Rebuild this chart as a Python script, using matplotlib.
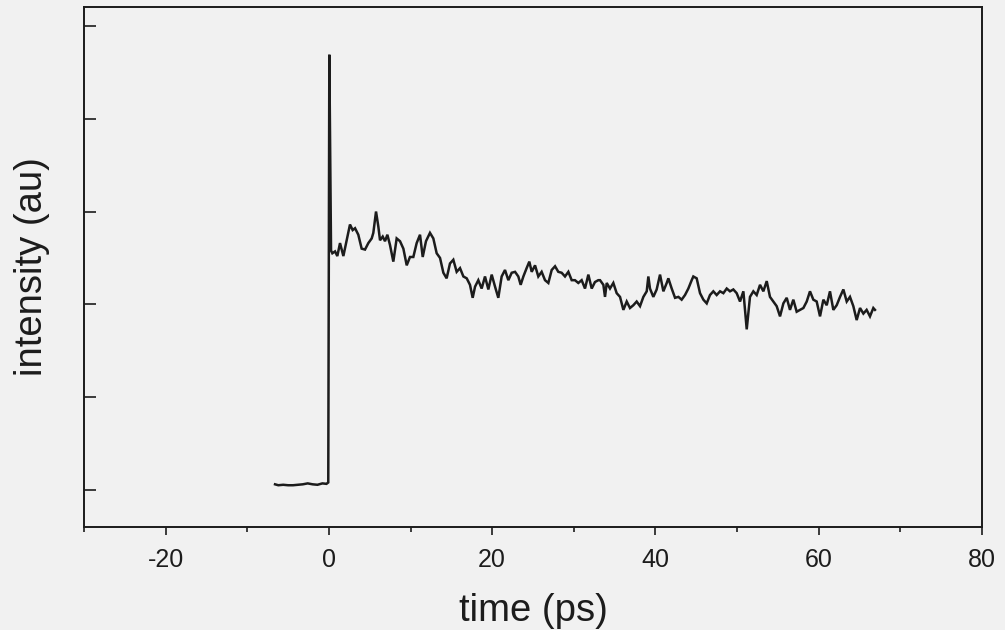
import matplotlib
matplotlib.use("Agg")
import matplotlib.pyplot as plt
from matplotlib.ticker import MultipleLocator, NullFormatter

# ---- data (time in ps, intensity in arbitrary units) ----
time_base = [-6.6, -6.2, -5.6, -5.0, -4.4, -3.8, -3.2, -2.6, -2.0, -1.4, -0.8, -0.3, -0.08]
int_base = [0.06, 0.05, 0.055, 0.05, 0.05, 0.055, 0.06, 0.07, 0.06, 0.055, 0.07, 0.065, 0.08]

time_peak = [0.05, 0.26]
int_peak = [4.69, 2.58]

time_early = [0.42, 0.75, 1.03, 1.36, 1.77, 2.18, 2.58, 2.91, 3.20, 3.60, 4.01, 4.42, 4.83,
              5.24, 5.44, 5.77, 6.05, 6.26, 6.59, 6.87, 7.16, 7.48, 7.89, 8.30, 8.71, 9.12,
              9.53, 9.93, 10.34, 10.75, 11.16, 11.49, 11.89, 12.38, 12.79, 13.20, 13.61,
              14.02, 14.42, 14.83, 15.24, 15.65, 16.06, 16.47, 16.88, 17.28, 17.61, 17.90,
              18.30, 18.71, 19.12, 19.53, 19.94, 20.35, 20.75, 21.16, 21.57, 21.98, 22.39,
              22.80, 23.20, 23.49, 23.82, 24.22, 24.55, 24.84, 25.25, 25.65, 26.06, 26.47,
              26.88, 27.29, 27.70, 28.10, 28.51, 28.92, 29.33, 29.74, 30.14, 30.55, 30.96,
              31.37, 31.78, 32.19, 32.59, 33.00]
int_early = [2.55, 2.57, 2.52, 2.66, 2.52, 2.69, 2.86, 2.80, 2.82, 2.75, 2.60, 2.59, 2.66,
             2.71, 2.77, 3.00, 2.84, 2.69, 2.73, 2.68, 2.75, 2.64, 2.46, 2.71, 2.68, 2.60,
             2.42, 2.51, 2.51, 2.66, 2.75, 2.51, 2.68, 2.77, 2.71, 2.55, 2.50,
             2.34, 2.28, 2.44, 2.48, 2.35, 2.39, 2.30, 2.28, 2.21, 2.07, 2.19,
             2.26, 2.17, 2.30, 2.16, 2.32, 2.19, 2.07, 2.30, 2.37, 2.26, 2.34,
             2.35, 2.30, 2.21, 2.30, 2.39, 2.46, 2.35, 2.42, 2.30, 2.35, 2.26,
             2.23, 2.37, 2.41, 2.35, 2.34, 2.30, 2.35, 2.26, 2.26, 2.23, 2.26,
             2.17, 2.32, 2.17, 2.24, 2.26]

time_late = [33.21, 33.62, 33.82, 34.03, 34.43, 34.84, 35.25, 35.66, 36.07, 36.48, 36.88,
             37.29, 37.70, 38.11, 38.52, 38.93, 39.13, 39.33, 39.74, 40.15, 40.56, 40.97,
             41.38, 41.58, 41.99, 42.40, 42.81, 43.21, 43.62, 44.03, 44.44, 44.64, 45.05,
             45.46, 45.87, 46.28, 46.68, 47.09, 47.50, 47.91, 48.32, 48.73, 49.13, 49.54,
             49.95, 50.36, 50.77, 51.18, 51.58, 51.99, 52.40, 52.81, 53.22, 53.63, 54.03,
             54.44, 54.85, 55.26, 55.67, 56.08, 56.48, 56.89, 57.30, 57.71, 58.12, 58.53,
             58.93, 59.34, 59.75, 60.16, 60.57, 60.98, 61.38, 61.79, 62.20, 62.61, 63.02,
             63.43, 63.83, 64.24, 64.65, 65.06, 65.47, 65.87, 66.28, 66.69, 66.89]
int_late = [2.26, 2.21, 2.08, 2.23, 2.17, 2.23, 2.12, 2.08, 1.94, 2.03, 1.96,
            1.99, 2.03, 1.98, 2.08, 2.14, 2.30, 2.17, 2.08, 2.16, 2.32, 2.14,
            2.23, 2.28, 2.17, 2.07, 2.08, 2.05, 2.10, 2.17, 2.26, 2.30, 2.28,
            2.12, 2.05, 2.01, 2.10, 2.14, 2.10, 2.14, 2.12, 2.17, 2.14, 2.16,
            2.12, 2.03, 2.14, 1.73, 2.08, 2.14, 2.10, 2.21, 2.14, 2.25, 2.08,
            2.03, 1.98, 1.87, 2.01, 2.07, 1.94, 2.05, 1.92, 1.94, 1.96, 2.03,
            2.14, 2.05, 2.03, 1.87, 2.05, 1.99, 2.14, 1.94, 1.99, 2.08, 2.16,
            2.03, 2.08, 1.98, 1.83, 1.96, 1.90, 1.94, 1.87, 1.96, 1.94]

x_ticks_major = [-20, 0, 20, 40, 60, 80]
x_tick_labels = ["-20", "0", "20", "40", "60", "80"]
y_ticks = [0, 1, 2, 3, 4, 5]

time_all = time_base + time_peak + time_early + time_late
int_all = int_base + int_peak + int_early + int_late

# ---- figure ----
BG = "#f1f1f1"
INK = "#1c1c1c"
plt.rcParams["font.family"] = ["Liberation Sans", "DejaVu Sans"]

fig = plt.figure(figsize=(10.05, 6.3), dpi=100, facecolor=BG)
ax = fig.add_axes([0.0836, 0.1635, 0.8935, 0.8255])
ax.set_facecolor(BG)

ax.plot(time_all, int_all, color=INK, lw=1.8, solid_joinstyle="miter")

ax.set_xlim(-30, 80)
ax.set_ylim(-0.40, 5.205)

ax.set_xticks(x_ticks_major)
ax.set_xticklabels(x_tick_labels)
ax.xaxis.set_minor_locator(MultipleLocator(10))
ax.set_yticks(y_ticks)
ax.yaxis.set_major_formatter(NullFormatter())

ax.tick_params(axis="x", which="major", direction="out", length=6, width=1.2,
               colors=INK, labelsize=18, pad=9)
ax.tick_params(axis="x", which="minor", direction="out", length=3.8, width=1.2, colors=INK)
ax.tick_params(axis="y", which="major", direction="in", length=8.5, width=1.2, colors=INK)

for s in ax.spines.values():
    s.set_linewidth(1.4)
    s.set_color(INK)

ax.set_xlabel("time (ps)", fontsize=27.5, color=INK, labelpad=15)
ax.set_ylabel("intensity (au)", fontsize=27.5, color=INK, labelpad=21)

fig.savefig("out.png", dpi=100, facecolor=BG)
